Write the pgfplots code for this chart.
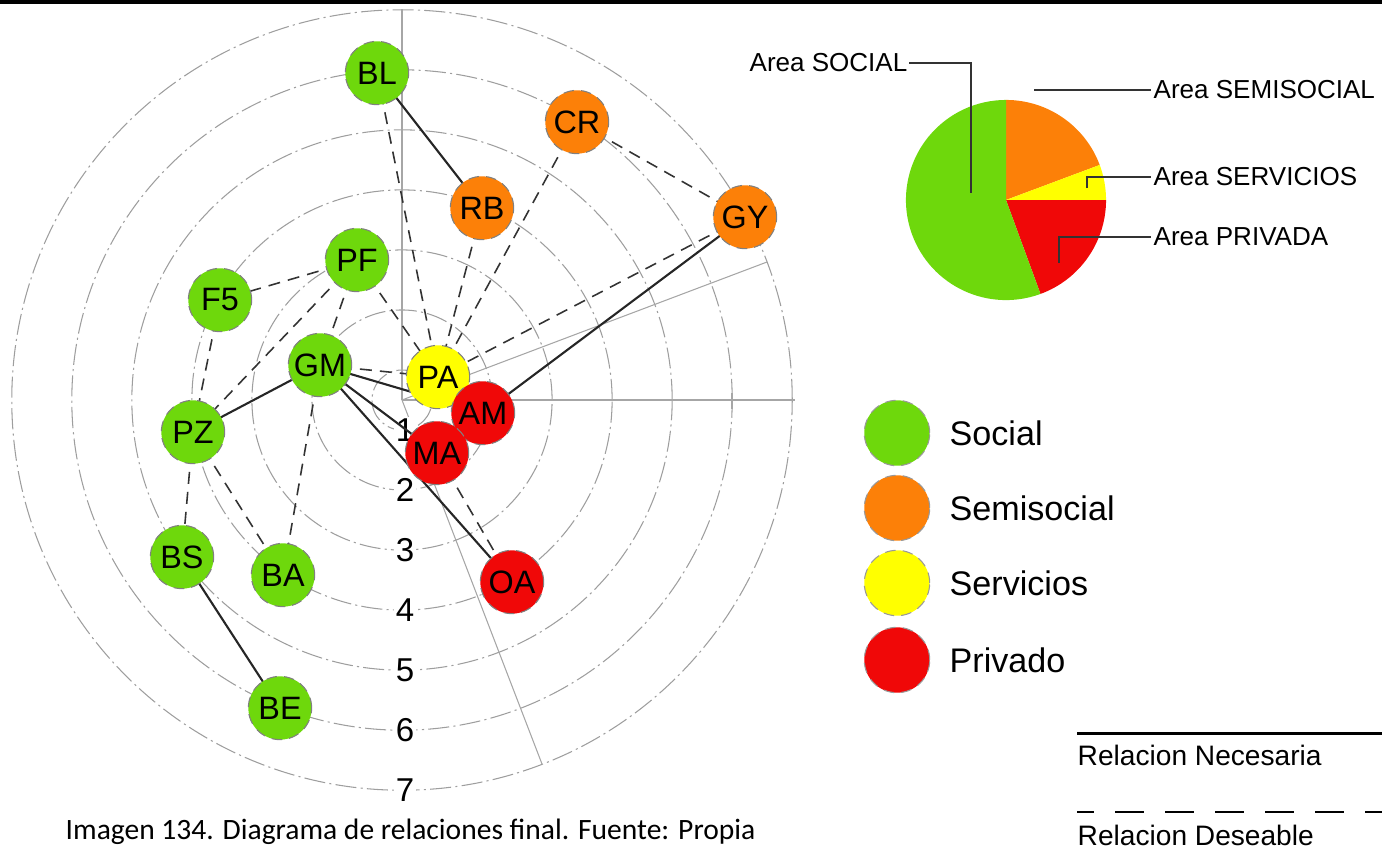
\documentclass[border=0pt]{standalone}
\usepackage{pgfplots}
\pgfplotsset{compat=1.18}
\usepackage{pgfplotstable}
\usepackage{fontspec}
\setmainfont{Liberation Sans}
\newfontfamily\capfont{Carlito}

\definecolor{social}{RGB}{110,216,12}
\definecolor{semisocial}{RGB}{252,128,8}
\definecolor{servicios}{RGB}{255,255,0}
\definecolor{privado}{RGB}{240,8,8}
\newcommand{\fs}[1]{\fontsize{#1}{#1}\selectfont}
\tikzset{
    ring/.style={black!38, line width=0.3pt, dash pattern=on 6pt off 1.2pt on 0.6pt off 1.2pt},
    radial/.style={black!35, line width=0.3pt},
}

% node positions (pixel grid, y downwards)
\pgfplotstableread{
x y lab
377 73 BL
357 260 PF
220 300 F5
320 365 GM
193 432 PZ
182 557 BS
283 575 BA
280 708 BE
}\social
\pgfplotstableread{
x y lab
577 122 CR
482 208 RB
745 217 GY
}\semisocial
\pgfplotstableread{
x y lab
438 377 PA
}\servicios
\pgfplotstableread{
x y lab
483 413 AM
437 453 MA
512 582 OA
}\privado

% area shares of the pie (percent)
\pgfmathsetmacro\aA{90-3.6*19.3}   % semisocial
\pgfmathsetmacro\aB{\aA-3.6*5.7}   % servicios
\pgfmathsetmacro\aC{\aB-3.6*19.4}  % privado

\begin{document}
\begin{tikzpicture}
\begin{axis}[
    x=0.01cm, y=0.01cm,
    xmin=0, xmax=1382, ymin=0, ymax=848,
    y dir=reverse,
    hide axis,
    clip=true,
    nodeplot/.style={only marks, mark=*, mark size=9pt,
        mark options={draw=black!50, densely dashed, line width=0.3pt, fill=#1},
        nodes near coords, point meta=explicit symbolic,
        nodes near coords style={anchor=center, font=\fs{9.2}, text=black}},
    necesaria/.style={black!85, line width=0.6pt, unbounded coords=jump},
    deseable/.style={black!80, line width=0.45pt, dash pattern=on 3.4pt off 2.3pt, unbounded coords=jump},
]
\coordinate (TL) at (axis cs:0,0);
\coordinate (BR) at (axis cs:1382,848);
\fill[black] (axis cs:0,0) rectangle (axis cs:1382,4);

% rings and sector lines
\pgfplotsinvokeforeach{1,...,7}{
  \draw[ring] (axis cs:402,400) circle[radius={(0.6*#1-0.3)*1cm}];
}
\draw[radial] (axis cs:402,400) -- (axis cs:402,10);
\draw[radial] (axis cs:402,400) -- (axis cs:767,262);
\draw[radial] (axis cs:402,400) -- (axis cs:795,400);
\draw[radial] (axis cs:402,400) -- (axis cs:542,764);
\draw[radial] (axis cs:732,393) -- (axis cs:732,409);
\pgfplotsinvokeforeach{1,...,7}{
  \node[fill=white, inner sep=0.6pt, font=\fs{9.4}] at (axis cs:405,{370+60*#1}) {#1};
}

% relations
\addplot[necesaria] coordinates {
    (377,73) (482,208) (nan,nan)
    (745,217) (483,413) (nan,nan)
    (320,365) (193,432) (nan,nan)
    (320,365) (483,413) (nan,nan)
    (320,365) (437,453) (nan,nan)
    (320,365) (512,582) (nan,nan)
    (182,557) (280,708)
};
\addplot[deseable] coordinates {
    (377,73) (438,377) (nan,nan)
    (482,208) (438,377) (nan,nan)
    (577,122) (438,377) (nan,nan)
    (577,122) (745,217) (nan,nan)
    (745,217) (438,377) (nan,nan)
    (357,260) (220,300) (nan,nan)
    (357,260) (438,377) (nan,nan)
    (357,260) (320,365) (nan,nan)
    (357,260) (193,432) (nan,nan)
    (220,300) (193,432) (nan,nan)
    (320,365) (438,377) (nan,nan)
    (320,365) (283,575) (nan,nan)
    (193,432) (182,557) (nan,nan)
    (193,432) (283,575) (nan,nan)
    (437,453) (512,582)
};

% spaces
\addplot[nodeplot=social] table[meta=lab] {\social};
\addplot[nodeplot=semisocial] table[meta=lab] {\semisocial};
\addplot[nodeplot=servicios] table[meta=lab] {\servicios};
\addplot[nodeplot=privado] table[meta=lab] {\privado};

% pie of areas
\fill[semisocial] (axis cs:1006,200) -- +(90:1cm) arc[start angle=90, end angle=\aA, radius=1cm] -- cycle;
\fill[servicios] (axis cs:1006,200) -- +(\aA:1cm) arc[start angle=\aA, end angle=\aB, radius=1cm] -- cycle;
\fill[privado] (axis cs:1006,200) -- +(\aB:1cm) arc[start angle=\aB, end angle=\aC, radius=1cm] -- cycle;
\fill[social] (axis cs:1006,200) -- +(\aC:1cm) arc[start angle=\aC, end angle=-270, radius=1cm] -- cycle;
\draw[black!80, line width=0.35pt] (axis cs:909,63) -- (axis cs:971,63) -- (axis cs:971,193);
\draw[black!80, line width=0.35pt] (axis cs:1034,90) -- (axis cs:1151,90);
\draw[black!80, line width=0.35pt] (axis cs:1087,188) -- (axis cs:1087,177) -- (axis cs:1151,177);
\draw[black!80, line width=0.35pt] (axis cs:1059,263) -- (axis cs:1059,237) -- (axis cs:1151,237);
\node[anchor=east, inner sep=0pt, font=\fs{7.4}] at (axis cs:908,63) {Area SOCIAL};
\node[anchor=west, inner sep=0pt, font=\fs{7.4}] at (axis cs:1153,90) {Area SEMISOCIAL};
\node[anchor=west, inner sep=0pt, font=\fs{7.4}] at (axis cs:1153,177) {Area SERVICIOS};
\node[anchor=west, inner sep=0pt, font=\fs{7.4}] at (axis cs:1153,237) {Area PRIVADA};

% legend of colours
\addplot[only marks, mark=*, mark size=9.3pt, mark options={draw=black!40, densely dashed, line width=0.3pt, fill=social}] coordinates {(897,433)};
\addplot[only marks, mark=*, mark size=9.3pt, mark options={draw=black!40, densely dashed, line width=0.3pt, fill=semisocial}] coordinates {(897,508)};
\addplot[only marks, mark=*, mark size=9.3pt, mark options={draw=black!40, densely dashed, line width=0.3pt, fill=servicios}] coordinates {(897,583)};
\addplot[only marks, mark=*, mark size=9.3pt, mark options={draw=black!40, densely dashed, line width=0.3pt, fill=privado}] coordinates {(897,660)};
\node[anchor=west, inner sep=0pt, font=\fs{9.7}] at (axis cs:949,433) {Social};
\node[anchor=west, inner sep=0pt, font=\fs{9.7}] at (axis cs:949,508) {Semisocial};
\node[anchor=west, inner sep=0pt, font=\fs{9.7}] at (axis cs:949,583) {Servicios};
\node[anchor=west, inner sep=0pt, font=\fs{9.7}] at (axis cs:949,660) {Privado};

% legend of relations
\draw[black, line width=0.85pt] (axis cs:1077,733) -- (axis cs:1382,733);
\node[anchor=west, inner sep=0pt, font=\fs{8}] at (axis cs:1077,755) {Relacion Necesaria};
\draw[black, line width=0.55pt, dash pattern=on 0.29cm off 0.21cm, dash phase=0.12cm] (axis cs:1077,812) -- (axis cs:1382,812);
\node[anchor=west, inner sep=0pt, font=\fs{8}] at (axis cs:1077,835) {Relacion Deseable};

\node[anchor=base west, inner sep=0pt, font=\capfont\fs{8.4}] at (axis cs:65,839) {Imagen 134. Diagrama de relaciones final. Fuente: Propia};
\end{axis}
\pgfresetboundingbox
\path[use as bounding box] (TL) rectangle (BR);
\end{tikzpicture}
\end{document}
